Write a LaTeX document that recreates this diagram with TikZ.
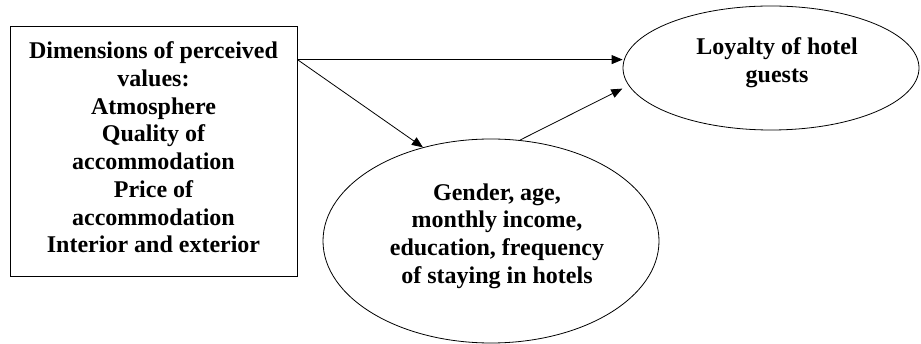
\documentclass[tikz,border=0pt]{standalone}
\usepackage{fontspec}
\setmainfont{Liberation Serif}
\usepackage{tikz}
\usetikzlibrary{arrows.meta,positioning,shapes.geometric}

\begin{document}
\begin{tikzpicture}[
    x=1pt,
    y=-1pt,
    lab/.style={font=\fontsize{24}{27.7}\selectfont\bfseries, align=center},
    box/.style={draw, thick, rectangle, minimum width=287, minimum height=250, inner sep=0},
    oval/.style={draw, thick, ellipse, inner sep=0},
    link/.style={-{Triangle[length=11pt,width=9pt]}, thick}
  ]
    \useasboundingbox (0,0) rectangle (921,344);

    % dimensions of perceived values
    \node[box] (dims) at (153.5,151) {};
    \node[lab] (dimstext) at (153.5,147.5) {Dimensions of perceived\\values:\\Atmosphere\\Quality of\\accommodation\\Price of\\accommodation\\Interior and exterior};
    \coordinate (src) at ([yshift=-34]dims.north east);

    % loyalty
    \node[oval, minimum width=296, minimum height=124] (loyal) at (771,68) {};
    \node[lab] (loyaltext) at (777,63) {Loyalty of hotel\\guests};

    % control variables
    \node[oval, minimum width=336, minimum height=204] (ctrl) at (491,241) {};
    \node[lab] (ctrltext) at (497,236) {Gender, age,\\monthly income,\\education, frequency\\of staying in hotels};

    \draw[link] (src) -- (src -| loyal.west);
    \draw[link] (src) -- (ctrl.126);
    \draw[link, shorten >=7pt] (ctrl.74) -- (loyal.187);
  \end{tikzpicture}
\end{document}
